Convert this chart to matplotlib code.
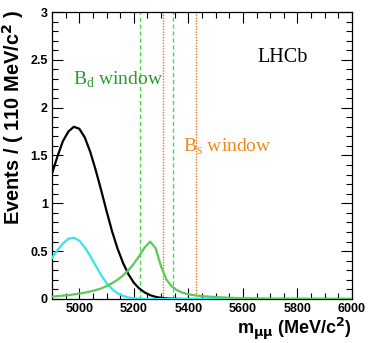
import numpy as np
import matplotlib
matplotlib.use("Agg")
import matplotlib.pyplot as plt
from matplotlib.ticker import MultipleLocator

# dimuon mass (MeV/c^2)
mass = [4900, 4920, 4940, 4960, 4980, 5000, 5020, 5040, 5060, 5080,
        5100, 5120, 5140, 5160, 5180, 5200, 5220, 5240, 5260, 5280,
        5300, 5320, 5340, 5360, 5380, 5400, 5420, 5440, 5460, 5480,
        5500, 5550, 5600, 5650, 5700, 5800, 5900, 6000]

black_bkg = [1.31, 1.49, 1.65, 1.75, 1.80, 1.78, 1.69, 1.54, 1.35, 1.14,
             0.92, 0.71, 0.53, 0.38, 0.26, 0.17, 0.11, 0.068, 0.040, 0.022,
             0.012, 0.006, 0.003, 0.001, 0.0, 0.0, 0.0, 0.0, 0.0, 0.0,
             0.0, 0.0, 0.0, 0.0, 0.0, 0.0, 0.0, 0.0]
cyan_bkg = [0.43, 0.51, 0.58, 0.63, 0.64, 0.61, 0.54, 0.45, 0.35, 0.25,
            0.167, 0.104, 0.060, 0.033, 0.016, 0.008, 0.003, 0.001, 0.0, 0.0,
            0.0, 0.0, 0.0, 0.0, 0.0, 0.0, 0.0, 0.0, 0.0, 0.0,
            0.0, 0.0, 0.0, 0.0, 0.0, 0.0, 0.0, 0.0]
green_bkg = [0.025, 0.03, 0.035, 0.04, 0.048, 0.056, 0.066, 0.078, 0.093, 0.11,
             0.135, 0.165, 0.20, 0.245, 0.30, 0.37, 0.45, 0.54, 0.60, 0.53,
             0.34, 0.20, 0.13, 0.09, 0.065, 0.05, 0.04, 0.033, 0.028, 0.024,
             0.02, 0.013, 0.008, 0.005, 0.003, 0.001, 0.0, 0.0]

bd_window = [5222, 5342]
bs_window = [5308, 5428]

fig = plt.figure(figsize=(3.68, 3.43), dpi=100)
ax = fig.add_axes([0.1413, 0.1283, 0.8152, 0.8367])

ax.plot(mass, black_bkg, color="black", lw=1.6, zorder=3)
ax.plot(mass, cyan_bkg, color="#33e5f0", lw=1.6, zorder=3)
ax.plot(mass, green_bkg, color="#5cc85c", lw=1.6, zorder=3)

for x in bd_window:
    ax.axvline(x, color="#44dd44", lw=1.0, ls=(0, (3, 2)), zorder=2)
for x in bs_window:
    ax.axvline(x, color="#e8731a", lw=1.0, ls=(0, (1, 1)), zorder=2)

ax.text(4977, 2.29, r"B$_\mathregular{d}$ window", color="#2a9a2a",
        family="Liberation Serif", fontsize=14, va="center")
ax.text(5380, 1.59, r"B$_\mathregular{s}$ window", color="#f08a1e",
        family="Liberation Serif", fontsize=14, va="center")
ax.text(5655, 2.52, "LHCb", color="black",
        family="Liberation Serif", fontsize=14.5, va="center")

ax.set_xlim(4900, 6000)
ax.set_ylim(0, 3)
ax.xaxis.set_major_locator(MultipleLocator(200))
ax.xaxis.set_minor_locator(MultipleLocator(50))
ax.yaxis.set_major_locator(MultipleLocator(0.5))
ax.yaxis.set_minor_locator(MultipleLocator(0.1))
ax.tick_params(which="both", direction="in", top=True, right=True, width=0.8)
ax.tick_params(which="major", length=8, labelsize=9, pad=3)
ax.tick_params(which="minor", length=4)
ax.set_yticks([0, 0.5, 1, 1.5, 2, 2.5, 3])
ax.set_yticklabels(["0", "0.5", "1", "1.5", "2", "2.5", "3"])
for lab in ax.get_xticklabels() + ax.get_yticklabels():
    lab.set_fontweight("bold")
    lab.set_family("Liberation Sans")
for s in ax.spines.values():
    s.set_linewidth(0.9)

ax.set_ylabel(r"Events / ( 110 MeV/c$^\mathbf{2}$ )", fontsize=14.4,
              fontweight="bold", family="Liberation Sans")
ax.yaxis.set_label_coords(-0.085, 1.007)
ax.yaxis.label.set_ha("right")
ax.set_xlabel(r"m$_{\mathbf{\mu\mu}}$ (MeV/c$^\mathbf{2}$)", fontsize=13,
              fontweight="bold", family="Liberation Sans")
ax.xaxis.set_label_coords(1.0, -0.058)
ax.xaxis.label.set_ha("right")

fig.savefig("out.png", dpi=100)
